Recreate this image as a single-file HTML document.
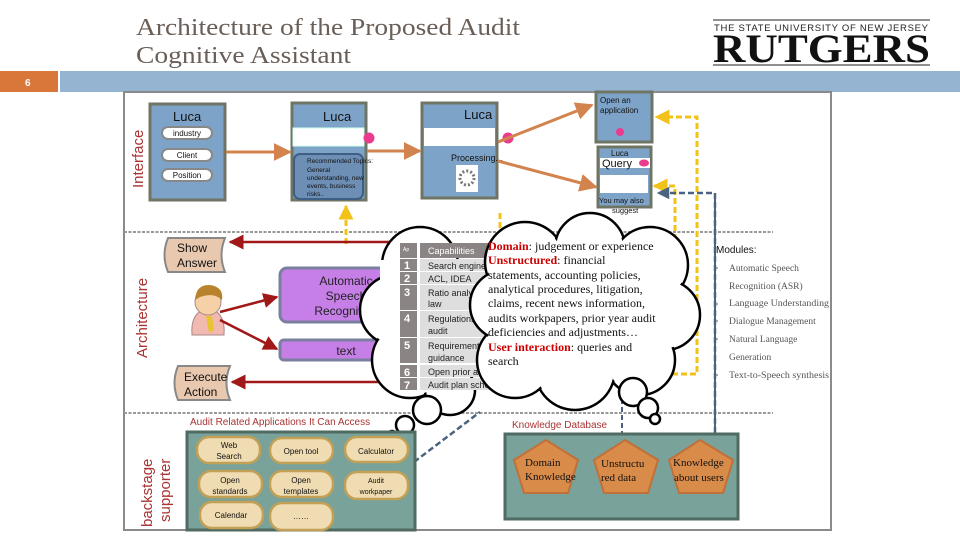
<!DOCTYPE html>
<html><head><meta charset="utf-8"><style>
html,body{margin:0;padding:0;background:#fff;}
svg{display:block;font-family:"Liberation Sans",sans-serif;}
.s{font-family:"Liberation Serif",serif;}
</style></head><body>
<svg width="960" height="540" viewBox="0 0 960 540" xmlns="http://www.w3.org/2000/svg">
<defs>
<marker id="ao" viewBox="0 0 10 10" refX="9" refY="5" markerWidth="6" markerHeight="6" orient="auto"><path d="M0,0L10,5L0,10z" fill="#d2834e"/></marker>
<marker id="ar" viewBox="0 0 10 10" refX="9" refY="5" markerWidth="6" markerHeight="6" orient="auto"><path d="M0,0L10,5L0,10z" fill="#a01818"/></marker>
<marker id="ay" viewBox="0 0 10 10" refX="9" refY="5" markerWidth="5" markerHeight="5" orient="auto"><path d="M0,0L10,5L0,10z" fill="#f2c21a"/></marker>
<marker id="ab" viewBox="0 0 10 10" refX="9" refY="5" markerWidth="5" markerHeight="5" orient="auto"><path d="M0,0L10,5L0,10z" fill="#4a6480"/></marker>
</defs>
<!-- header -->
<text x="136" y="35" class="s" font-size="24" fill="#6a5f58" textLength="384" lengthAdjust="spacingAndGlyphs">Architecture of the Proposed Audit</text>
<text x="136" y="63" class="s" font-size="24" fill="#6a5f58" textLength="215" lengthAdjust="spacingAndGlyphs">Cognitive Assistant</text>
<line x1="713" y1="20" x2="930" y2="20" stroke="#222"/>
<text x="714" y="31" font-size="9.5" fill="#222" textLength="214">THE STATE UNIVERSITY OF NEW JERSEY</text>
<text x="713" y="62" class="s" font-size="40" font-weight="bold" fill="#111" textLength="217" lengthAdjust="spacingAndGlyphs">RUTGERS</text>
<line x1="713" y1="65" x2="930" y2="65" stroke="#222"/>
<rect x="0" y="71" width="58" height="21" fill="#d9763a"/>
<text x="25" y="86" font-size="10" fill="#fff" font-weight="bold">6</text>
<rect x="60" y="71" width="900" height="21" fill="#94b4d2"/>
<!-- frame -->
<rect x="124" y="92" width="707" height="438" fill="none" stroke="#8a8a8a" stroke-width="2"/>
<line x1="124" y1="232" x2="720" y2="232" stroke="#999" stroke-width="2" stroke-dasharray="3,1.5"/>
<line x1="700" y1="232" x2="773" y2="232" stroke="#999" stroke-width="2" stroke-dasharray="3,1.5"/>
<line x1="124" y1="413" x2="773" y2="413" stroke="#999" stroke-width="2" stroke-dasharray="3,1.5"/>
<text transform="translate(143,188) rotate(-90)" font-size="15" fill="#a33">Interface</text>
<text transform="translate(147,358) rotate(-90)" font-size="15" fill="#a33">Architecture</text>
<text transform="translate(152,527) rotate(-90)" font-size="15" fill="#a33">backstage</text>
<text transform="translate(170,522) rotate(-90)" font-size="15" fill="#a33">supporter</text>
<!-- interface boxes -->
<g stroke="#6f7565" stroke-width="3" fill="#7ea3c8">
<rect x="150" y="104" width="75" height="96"/>
<rect x="292" y="103" width="74" height="97"/>
<rect x="422" y="103" width="75" height="95"/>
<rect x="596" y="92" width="56" height="50"/>
<rect x="598" y="147" width="53" height="60"/>
</g>
<text x="173" y="121" font-size="13" fill="#111">Luca</text>
<g fill="#fff" stroke="#888" stroke-width="2"><rect x="162" y="127" width="50" height="12" rx="6"/><rect x="162" y="149" width="50" height="12" rx="6"/><rect x="162" y="169" width="50" height="12" rx="6"/></g>
<g font-size="8" fill="#111" text-anchor="middle"><text x="187" y="136">industry</text><text x="187" y="158">Client</text><text x="187" y="178">Position</text></g>
<text x="323" y="121" font-size="13" fill="#111">Luca</text>
<rect x="293" y="128" width="71" height="18" fill="#fff" stroke="#cfe" stroke-width="1"/>
<circle cx="369" cy="138" r="5.5" fill="#ea3c8e"/>
<rect x="294" y="154" width="69" height="45" rx="6" fill="#6d8fb5" stroke="#3d5f85" stroke-width="2"/>
<g font-size="6.5" fill="#111"><text x="307" y="163">Recommended Topics:</text><text x="307" y="172">General</text><text x="307" y="180">understanding, new</text><text x="307" y="188">events, business</text><text x="307" y="196">risks..</text></g>
<text x="464" y="119" font-size="13" fill="#111">Luca</text>
<rect x="424" y="128" width="71" height="18" fill="#fff"/>
<circle cx="508" cy="138" r="5.5" fill="#ea3c8e"/>
<text x="451" y="161" font-size="9" fill="#111">Processing...</text>
<rect x="456" y="165" width="22" height="27" fill="#fff"/>
<circle cx="467" cy="178" r="7" fill="none" stroke="#777" stroke-width="3" stroke-dasharray="2,2"/>
<g font-size="8" fill="#111"><text x="600" y="103">Open an</text><text x="600" y="113">application</text></g>
<circle cx="620" cy="132" r="4" fill="#ea3c8e"/>
<text x="611" y="156" font-size="8" fill="#111">Luca</text>
<rect x="600" y="158" width="50" height="10" fill="#fff"/>
<text x="602" y="167" font-size="11" fill="#111">Query</text>
<ellipse cx="644" cy="163" rx="5" ry="3.5" fill="#ea3c8e"/>
<rect x="600" y="175" width="48" height="18" fill="#fff"/>
<text x="599" y="203" font-size="7.5" fill="#111">You may also</text>
<text x="612" y="213" font-size="7.5" fill="#111">suggest</text>
<!-- orange arrows -->
<g stroke="#d2834e" stroke-width="3" fill="none">
<line x1="226" y1="152" x2="290" y2="152" marker-end="url(#ao)"/>
<line x1="367" y1="151" x2="420" y2="151" marker-end="url(#ao)"/>
<line x1="498" y1="142" x2="592" y2="105" marker-end="url(#ao)"/>
<line x1="498" y1="161" x2="596" y2="187" marker-end="url(#ao)"/>
</g>
<!-- yellow dashed -->
<g stroke="#f2c21a" stroke-width="3" fill="none" stroke-dasharray="6,3">
<line x1="346" y1="244" x2="346" y2="206" marker-end="url(#ay)"/>
<line x1="500" y1="213" x2="500" y2="230"/>
<polyline points="600,374 697,374 697,117 656,117" marker-end="url(#ay)"/>
<polyline points="675,240 675,186 654,186" marker-end="url(#ay)"/>
</g>
<!-- blue dashed / solid -->
<polyline points="715,433 715,193 658,193" fill="none" stroke="#4a6480" stroke-width="2.5" stroke-dasharray="6,3" marker-end="url(#ab)"/>
<line x1="715" y1="193" x2="715" y2="433" stroke="#4a6480" stroke-width="2"/>
<line x1="414" y1="462" x2="480" y2="412" stroke="#4a6480" stroke-width="2.5" stroke-dasharray="6,3"/>
<line x1="622" y1="375" x2="622" y2="433" stroke="#4a6480" stroke-width="2" stroke-dasharray="5,3"/>
<!-- architecture -->
<path d="M168,238 H225 Q218,255 225,272 H168 Q161,255 168,238z" fill="#e9c8b0" stroke="#888" stroke-width="2"/>
<text x="177" y="252" font-size="12" fill="#111">Show</text><text x="177" y="267" font-size="12" fill="#111">Answer</text>
<path d="M178,366 H230 Q223,383 230,400 H178 Q171,383 178,366z" fill="#e9c8b0" stroke="#888" stroke-width="2"/>
<text x="184" y="381" font-size="12" fill="#111">Execute</text><text x="184" y="396" font-size="12" fill="#111">Action</text>
<!-- person -->
<path d="M192,335 Q190,312 208,308 Q226,312 224,335z" fill="#f2b9b0" stroke="#a88" stroke-width="1"/>
<circle cx="208" cy="302" r="13" fill="#f6d0a6" stroke="#a88"/>
<path d="M195,300 Q196,284 210,285 Q224,287 222,300 Q214,292 200,297z" fill="#b9832e"/>
<path d="M206,316 L212,316 L214,330 L209,333z" fill="#e8c430"/>
<!-- purple -->
<rect x="280" y="268" width="110" height="54" rx="7" fill="#c77fe8" stroke="#7a7fa0" stroke-width="3"/>
<g font-size="12" fill="#222" text-anchor="middle"><text x="346" y="285">Automatic</text><text x="346" y="300">Speech</text><text x="346" y="315">Recognition</text></g>
<rect x="280" y="340" width="110" height="20" rx="4" fill="#c77fe8" stroke="#7a7fa0" stroke-width="3"/>
<text x="346" y="355" font-size="12" fill="#222" text-anchor="middle">text</text>
<g stroke="#a01818" stroke-width="2.5">
<line x1="398" y1="242" x2="230" y2="242" marker-end="url(#ar)"/>
<line x1="398" y1="382" x2="232" y2="382" marker-end="url(#ar)"/>
<line x1="220" y1="312" x2="277" y2="297" marker-end="url(#ar)"/>
<line x1="220" y1="320" x2="277" y2="349" marker-end="url(#ar)"/>
</g>
<!-- left cloud -->
<g stroke="#000" stroke-width="2.5" fill="#fff">
<circle cx="420" cy="265" r="38"/><circle cx="395" cy="310" r="35"/><circle cx="410" cy="360" r="38"/><circle cx="450" cy="390" r="25"/>
</g>
<g fill="#fff"><circle cx="420" cy="265" r="36"/><circle cx="395" cy="310" r="33"/><circle cx="410" cy="360" r="36"/><circle cx="450" cy="390" r="23"/><rect x="380" y="260" width="80" height="120"/></g>
<circle cx="427" cy="410" r="14" fill="#fff" stroke="#000" stroke-width="2.5"/>
<circle cx="405" cy="425" r="9" fill="#fff" stroke="#000" stroke-width="2.5"/>
<circle cx="392" cy="436" r="5" fill="#fff" stroke="#000" stroke-width="2.5"/>
<!-- table -->
<g fill="#8a8584"><rect x="400" y="243" width="17" height="15"/><rect x="400" y="259" width="17" height="12"/><rect x="400" y="272" width="17" height="12"/><rect x="400" y="285" width="17" height="25"/><rect x="400" y="311" width="17" height="26"/><rect x="400" y="338" width="17" height="25"/><rect x="400" y="365" width="17" height="12"/><rect x="400" y="378" width="17" height="12"/></g>
<rect x="420" y="243" width="110" height="15" fill="#8a8584"/>
<g fill="#dedede"><rect x="420" y="259" width="110" height="12"/><rect x="420" y="272" width="110" height="12"/><rect x="420" y="285" width="110" height="25"/><rect x="420" y="311" width="110" height="26"/><rect x="420" y="338" width="110" height="25"/><rect x="420" y="365" width="110" height="12"/><rect x="420" y="378" width="110" height="12"/></g>
<g font-size="11" fill="#fff" font-weight="bold"><text x="404" y="269">1</text><text x="404" y="282">2</text><text x="404" y="296">3</text><text x="404" y="322">4</text><text x="404" y="349">5</text><text x="404" y="376">6</text><text x="404" y="389">7</text></g>
<text x="403" y="251" font-size="5" fill="#fff">Ap</text>
<g font-size="9" fill="#222"><text x="428" y="254" fill="#fff">Capabilities</text><text x="428" y="269">Search engine</text><text x="428" y="282">ACL, IDEA</text><text x="428" y="296">Ratio analysis</text><text x="428" y="307">law</text><text x="428" y="322">Regulations</text><text x="428" y="334">audit</text><text x="428" y="349">Requirements</text><text x="428" y="361">guidance</text><text x="428" y="375">Open prior audit</text><text x="428" y="388">Audit plan schedule</text></g>
<!-- big cloud -->
<g stroke="#000" stroke-width="2.5" fill="#fff">
<circle cx="525" cy="262" r="40"/><circle cx="590" cy="248" r="35"/><circle cx="650" cy="265" r="38"/><circle cx="665" cy="315" r="35"/><circle cx="640" cy="360" r="35"/><circle cx="575" cy="370" r="40"/><circle cx="515" cy="360" r="38"/><circle cx="505" cy="305" r="35"/>
</g>
<g fill="#fff"><circle cx="525" cy="262" r="38"/><circle cx="590" cy="248" r="33"/><circle cx="650" cy="265" r="36"/><circle cx="665" cy="315" r="33"/><circle cx="640" cy="360" r="33"/><circle cx="575" cy="370" r="38"/><circle cx="515" cy="360" r="36"/><circle cx="505" cy="305" r="33"/><rect x="500" y="250" width="170" height="120"/></g>
<circle cx="633" cy="392" r="14" fill="#fff" stroke="#000" stroke-width="2.5"/>
<circle cx="648" cy="408" r="10" fill="#fff" stroke="#000" stroke-width="2.5"/>
<circle cx="655" cy="419" r="5" fill="#fff" stroke="#000" stroke-width="2.5"/>
<g class="s" font-size="12" fill="#111">
<text x="488" y="250"><tspan fill="#c00" font-weight="bold">Domain</tspan>: judgement or experience</text>
<text x="488" y="264"><tspan fill="#c00" font-weight="bold">Unstructured</tspan>: financial</text>
<text x="488" y="279">statements, accounting policies,</text>
<text x="488" y="293">analytical procedures, litigation,</text>
<text x="488" y="307">claims, recent news information,</text>
<text x="488" y="322">audits workpapers, prior year audit</text>
<text x="488" y="336">deficiencies and adjustments…</text>
<text x="488" y="351"><tspan fill="#c00" font-weight="bold">User interaction</tspan>: queries and</text>
<text x="488" y="365">search</text>
</g>
<!-- modules -->
<text x="716" y="253" font-size="10" fill="#111">Modules:</text>
<g class="s" font-size="9.5" fill="#555"><text x="729" y="271">Automatic Speech</text><text x="729" y="289">Recognition (ASR)</text><text x="729" y="306" textLength="100" lengthAdjust="spacingAndGlyphs">Language Understanding</text><text x="729" y="324">Dialogue Management</text><text x="729" y="342">Natural Language</text><text x="729" y="360">Generation</text><text x="729" y="378" textLength="100" lengthAdjust="spacingAndGlyphs">Text-to-Speech synthesis</text></g>
<g fill="#999"><circle cx="717" cy="268" r="1"/><circle cx="717" cy="304" r="1"/><circle cx="717" cy="321" r="1"/><circle cx="717" cy="339" r="1"/><circle cx="717" cy="375" r="1"/></g>
<!-- bottom labels -->
<text x="190" y="425" font-size="10" fill="#a33">Audit Related Applications It Can Access</text>
<text x="512" y="428" font-size="10" fill="#a33">Knowledge Database</text>
<!-- apps -->
<rect x="187" y="432" width="228" height="98" fill="#78a29a" stroke="#4f6b62" stroke-width="3"/>
<g fill="#f0dcb2" stroke="#c2a055" stroke-width="2.5">
<rect x="197" y="437" width="63" height="26" rx="12"/><rect x="270" y="438" width="63" height="25" rx="12"/><rect x="345" y="437" width="63" height="25" rx="12"/>
<rect x="199" y="471" width="63" height="26" rx="12"/><rect x="270" y="471" width="63" height="26" rx="12"/><rect x="345" y="472" width="63" height="27" rx="12"/>
<rect x="200" y="502" width="63" height="26" rx="12"/><rect x="270" y="503" width="63" height="27" rx="12"/>
</g>
<g font-size="8" fill="#111" text-anchor="middle">
<text x="229" y="448">Web</text><text x="229" y="459">Search</text><text x="301" y="454">Open tool</text><text x="376" y="454">Calculator</text>
<text x="230" y="483">Open</text><text x="230" y="494">standards</text><text x="301" y="483">Open</text><text x="301" y="494">templates</text>
<text x="376" y="483" font-size="7">Audit</text><text x="376" y="494" font-size="7">workpaper</text>
<text x="231" y="518">Calendar</text><text x="301" y="519">……</text></g>
<!-- knowledge db -->
<rect x="505" y="434" width="233" height="85" fill="#78a29a" stroke="#4f6b62" stroke-width="3"/>
<g fill="#d98b4a" stroke="#c07038" stroke-width="2">
<polygon points="546,440 578,460 568,493 524,493 514,460"/>
<polygon points="625,440 658,460 648,493 604,493 594,460"/>
<polygon points="700,440 733,460 723,493 679,493 669,460"/>
</g>
<g class="s" font-size="11" fill="#111"><text x="525" y="466">Domain</text><text x="525" y="480">Knowledge</text><text x="601" y="467">Unstructu</text><text x="601" y="481">red data</text><text x="673" y="466">Knowledge</text><text x="674" y="481">about users</text></g>
</svg>
</body></html>
